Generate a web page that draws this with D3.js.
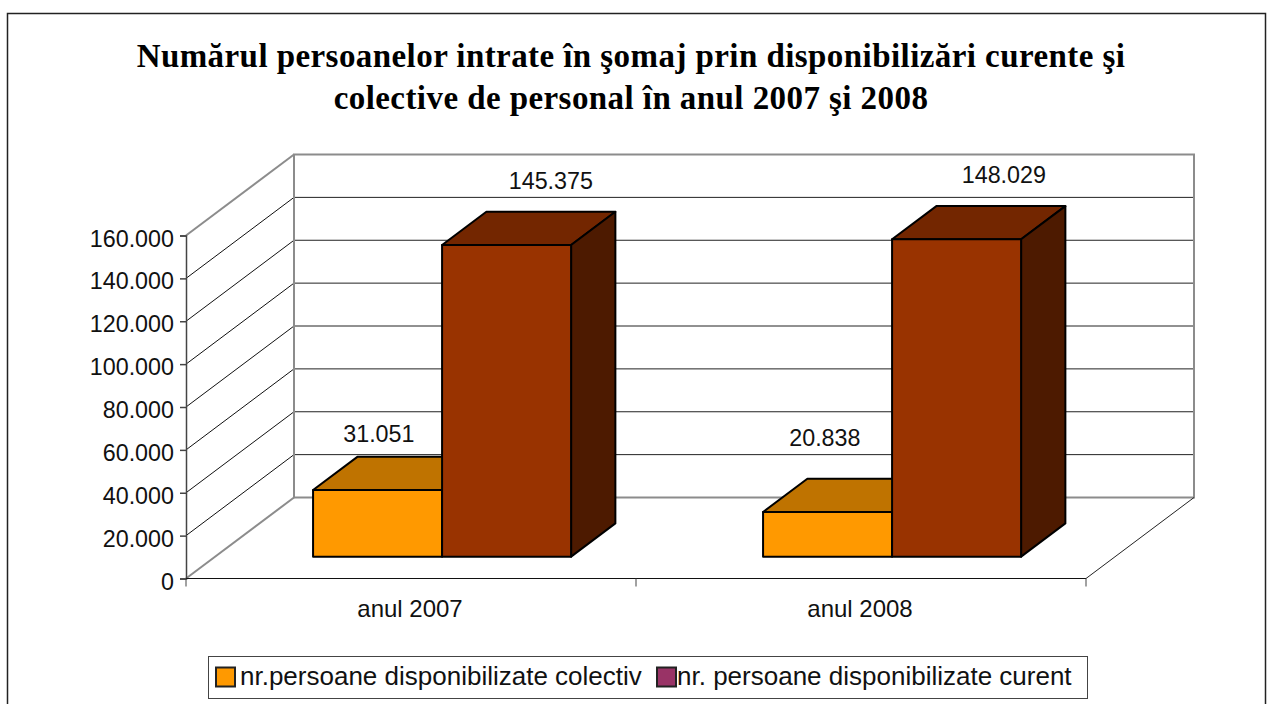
<!DOCTYPE html>
<html><head><meta charset="utf-8">
<script src="https://cdn.jsdelivr.net/npm/d3@7"></script>
<style>html,body{margin:0;padding:0;background:#fff;overflow:hidden}svg{display:block}</style>
</head><body><svg id="c" width="1272" height="704"></svg>
<script>
const titleLines = ["Numărul persoanelor intrate în şomaj prin disponibilizări curente şi","colective de personal în anul 2007 şi 2008"];
const categories = ["anul 2007","anul 2008"];
const seriesNames = ["nr.persoane disponibilizate colectiv","nr. persoane disponibilizate curent"];
const colectiv = [31051,20838];
const curent = [145375,148029];
const yTicks = [0,20000,40000,60000,80000,100000,120000,140000,160000];

const frontColors = ["#ff9900","#993300"];
const topColors = ["#bf7300","#732600"];
const sideColors = ["#804d00","#4d1a00"];
const legendColors = ["#ff9900","#993366"];
// label nudges as in the picture: [dx, dy] from the centre of the bar's top
const labelNudge = [[[-43,-15],[0,-23]],[[-47,-33],[3,-23]]];

const svg = d3.select("#c");
const loc = d3.formatLocale({decimal:",",thousands:".",grouping:[3],currency:["",""]});
const fmt = loc.format(",");
const sans = "'Liberation Sans',Arial,sans-serif";
const DX = 108, DY = -81;

const y = d3.scaleLinear().domain([0,160000]).range([578.5,235.5]);
const x0 = d3.scaleBand().domain(categories).range([186,1086]);
const x1 = d3.scaleBand().domain([0,1]).range([0,x0.bandwidth()]).paddingInner(0).paddingOuter(0.744).align(0.51);
const P = (px,v,z)=>[px+DX*z, y(v)+DY*z];
const poly = pts => "M"+pts.map(p=>p.join(",")).join("L")+"Z";

// frame
svg.append("rect").attr("x",7.5).attr("y",13.5).attr("width",1258).attr("height",720)
  .attr("fill","#fff").attr("stroke","#222").attr("stroke-width",1.5);

// title
svg.append("g").selectAll("text").data(titleLines).join("text")
  .attr("x",631).attr("y",(d,i)=>67+i*42).attr("text-anchor","middle")
  .attr("font-family","'Liberation Serif','Times New Roman',serif").attr("font-weight","bold")
  .attr("font-size",33).attr("letter-spacing",0.43).attr("fill","#000").text(d=>d);

// walls and grid
const x = x0.range();
const g = svg.append("g");
const grid = yTicks.slice(1);
g.selectAll("line.back").data(grid).join("line").attr("class","back")
  .attr("x1",x[0]+DX).attr("x2",x[1]+DX).attr("y1",d=>y(d)+DY).attr("y2",d=>y(d)+DY)
  .attr("stroke",d=>d===160000?"none":"#222").attr("stroke-width",1);
g.selectAll("line.side").data(grid).join("line").attr("class","side")
  .attr("x1",x[0]).attr("x2",x[0]+DX).attr("y1",d=>y(d)).attr("y2",d=>y(d)+DY)
  .attr("stroke",d=>d===160000?"#8c8c8c":"#111").attr("stroke-width",d=>d===160000?2:1);
g.append("path").attr("d",poly([[x[0]+DX,y(0)+DY],[x[1]+DX,y(0)+DY],[x[1]+DX,y(160000)+DY],[x[0]+DX,y(160000)+DY]]))
  .attr("fill","none").attr("stroke","#8c8c8c").attr("stroke-width",2);
g.append("line").attr("x1",x[0]).attr("y1",y(0)).attr("x2",x[0]+DX).attr("y2",y(0)+DY).attr("stroke","#8c8c8c").attr("stroke-width",2);
g.append("line").attr("x1",x[1]).attr("y1",y(0)).attr("x2",x[1]+DX).attr("y2",y(0)+DY).attr("stroke","#222").attr("stroke-width",1);

// y axis
const ya = svg.append("g").attr("transform",`translate(${x[0]},0)`)
  .call(d3.axisLeft(y).tickValues(yTicks).tickSize(6).tickPadding(6).tickFormat(fmt));
ya.selectAll("text").attr("font-family",sans).attr("font-size",23.3).attr("fill","#111").attr("dy","0.45em");
ya.selectAll("line").attr("stroke","#444").attr("stroke-width",1.5);
ya.select(".domain").attr("stroke","#444").attr("stroke-width",1.5);

// x axis line, ticks at band edges
const xEdges = [...categories.map(c=>x0(c)), x[1]];
svg.append("line").attr("x1",x[0]).attr("x2",x[1]).attr("y1",y(0)).attr("y2",y(0)).attr("stroke","#111").attr("stroke-width",1.2);
svg.selectAll("line.xt").data(xEdges).join("line").attr("class","xt")
  .attr("x1",d=>d).attr("x2",d=>d).attr("y1",y(0)).attr("y2",y(0)+8)
  .attr("stroke","#444").attr("stroke-width",1);
svg.selectAll("text.cat").data(categories).join("text").attr("class","cat")
  .attr("x",d=>x0(d)+x0.bandwidth()/2-1).attr("y",617).attr("text-anchor","middle")
  .attr("font-family",sans).attr("font-size",24).attr("fill","#111").text(d=>d);

// bars
const Z0 = 0.27, Z1 = 0.68;
const rows = categories.map((c,i)=>[colectiv[i],curent[i]].map((v,s)=>({c,i,s,v})));
rows.forEach(row=>{
  const bg = svg.append("g").attr("stroke","#000").attr("stroke-width",2).attr("stroke-linejoin","round");
  [...row].reverse().forEach(d=>{
    const l = x0(d.c)+x1(d.s), r = l+x1.bandwidth();
    bg.append("path").attr("fill",topColors[d.s]).attr("d",poly([P(l,d.v,Z0),P(r,d.v,Z0),P(r,d.v,Z1),P(l,d.v,Z1)]));
    if(d.s===1) bg.append("path").attr("fill",sideColors[d.s]).attr("d",poly([P(r,0,Z0),P(r,d.v,Z0),P(r,d.v,Z1),P(r,0,Z1)]));
  });
  row.forEach(d=>{
    const l = x0(d.c)+x1(d.s), r = l+x1.bandwidth();
    bg.append("path").attr("fill",frontColors[d.s]).attr("d",poly([P(l,0,Z0),P(r,0,Z0),P(r,d.v,Z0),P(l,d.v,Z0)]));
  });
  row.forEach(d=>{
    const l = x0(d.c)+x1(d.s), r = l+x1.bandwidth();
    const t = P((l+r)/2,d.v,Z1);
    const n = labelNudge[d.i][d.s];
    svg.append("text").attr("x",t[0]+n[0]).attr("y",t[1]+n[1]).attr("text-anchor","middle")
      .attr("font-family",sans).attr("font-size",23.3).attr("fill","#111").text(fmt(d.v));
  });
});

// legend
svg.append("rect").attr("x",208.5).attr("y",656.5).attr("width",879).attr("height",42).attr("fill","#fff").attr("stroke","#444").attr("stroke-width",1);
const lx = [216,657], tx = [240,677];
seriesNames.forEach((n,i)=>{
  svg.append("rect").attr("x",lx[i]).attr("y",667.5).attr("width",19).attr("height",19).attr("fill",legendColors[i]).attr("stroke","#222").attr("stroke-width",2);
  svg.append("text").attr("x",tx[i]).attr("y",685).attr("font-family",sans).attr("font-size",26).attr("fill","#111").text(n);
});
</script></body></html>
